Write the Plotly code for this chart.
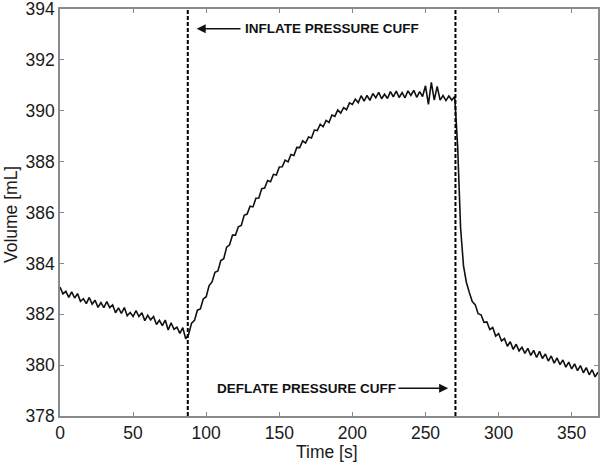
import plotly.graph_objects as go

# time [s] and volume [mL]
time_s = list(range(0, 369, 2))
volume_ml = [
    383.07, 382.80, 382.90, 382.66, 382.88, 382.64, 382.81, 382.51, 382.61, 382.42,
    382.66, 382.40, 382.55, 382.27, 382.46, 382.26, 382.50, 382.26, 382.37, 382.06,
    382.25, 382.03, 382.26, 381.94, 382.07, 381.91, 382.14, 381.91, 382.06, 381.75,
    381.96, 381.78, 381.91, 381.60, 381.76, 381.55, 381.77, 381.38, 381.66, 381.41,
    381.49, 381.25, 381.47, 381.03,
    381.22, 381.65, 381.76, 382.16, 382.21, 382.60, 382.69, 383.13, 383.27, 383.65,
    383.70, 384.11, 384.18, 384.64, 384.73, 385.11, 385.11, 385.44, 385.49, 385.89,
    385.94, 386.25, 386.22, 386.56, 386.57, 386.94, 386.96, 387.26, 387.21, 387.50,
    387.47, 387.79, 387.80, 388.06, 387.99, 388.28, 388.24, 388.56, 388.55, 388.82,
    388.73, 388.97, 388.93, 389.24, 389.22, 389.47, 389.37, 389.62, 389.54, 389.83,
    389.78, 390.03, 389.91, 390.12, 390.04, 390.31, 390.25, 390.46, 390.32, 390.59,
    390.38, 390.60, 390.41, 390.68, 390.51, 390.72, 390.47, 390.65, 390.48, 390.75,
    390.55, 390.77, 390.52, 390.71, 390.51, 390.78, 390.60, 390.80, 390.53, 390.75,
    390.56, 390.98, 390.25, 391.12, 390.42, 390.96, 390.42, 390.60, 390.40, 390.58,
    390.42, 390.56,
    388.60, 385.40, 383.90, 383.25, 382.85, 382.50, 382.38, 382.02, 381.98, 381.68,
    381.70, 381.40, 381.48, 381.14, 381.24, 380.95, 381.04, 380.74, 380.92, 380.62,
    380.82, 380.56, 380.70, 380.46, 380.66, 380.38, 380.58, 380.30, 380.54, 380.26,
    380.44, 380.16, 380.36, 380.08, 380.28, 380.02, 380.20, 379.92, 380.12, 379.85,
    380.05, 379.78, 379.98, 379.70, 379.90, 379.62, 379.82, 379.54, 379.72,
]

event_times = [87.4, 270.5]
event_labels = ["INFLATE PRESSURE CUFF", "DEFLATE PRESSURE CUFF"]
x_ticks = [0, 50, 100, 150, 200, 250, 300, 350]
y_ticks = [378, 380, 382, 384, 386, 388, 390, 392, 394]
x_title = "Time [s]"
y_title = "Volume [mL]"

fig = go.Figure()
fig.add_trace(go.Scatter(x=time_s, y=volume_ml, mode="lines",
                         line=dict(color="#111111", width=1.6), showlegend=False))

for t in event_times:
    fig.add_shape(type="line", xref="x", yref="paper", x0=t, x1=t, y0=0, y1=1,
                  line=dict(color="black", width=2, dash="4px,2px"))

afont = dict(family="Liberation Sans", size=13.5, color="#111111")
# inflate label + arrow pointing left
fig.add_annotation(x=125, y=393.22, text="<b>" + event_labels[0] + "</b>", showarrow=False,
                   xanchor="left", yanchor="middle", font=afont)
fig.add_annotation(x=93.5, y=393.22, ax=124.5, ay=393.22, axref="x", ayref="y",
                   xref="x", yref="y", text="", showarrow=True, arrowhead=2,
                   arrowsize=1.2, arrowwidth=1.5, arrowcolor="#111111")
# deflate label + arrow pointing right
fig.add_annotation(x=231, y=379.09, text="<b>" + event_labels[1] + "</b>", showarrow=False,
                   xanchor="right", yanchor="middle", font=afont)
fig.add_annotation(x=265.5, y=379.09, ax=230.5, ay=379.09, axref="x", ayref="y",
                   xref="x", yref="y", text="", showarrow=True, arrowhead=2,
                   arrowsize=1.2, arrowwidth=1.5, arrowcolor="#111111")

tfont = dict(family="Liberation Sans", size=17.5, color="#1a1a1a")
fig.add_annotation(x=0.496, y=-0.0885, xref="paper", yref="paper", text=x_title,
                   showarrow=False, xanchor="center", yanchor="middle", font=tfont)
fig.add_annotation(x=-0.092, y=0.495, xref="paper", yref="paper", text=y_title,
                   showarrow=False, textangle=-90, xanchor="center", yanchor="middle", font=tfont)

axis_common = dict(showgrid=False, zeroline=False, showline=True, linecolor="#8a8a8a",
                   linewidth=1.5, mirror="ticks", ticks="inside", ticklen=4,
                   tickcolor="#8a8a8a", automargin=False, ticklabeloverflow="allow",
                   tickfont=dict(family="Liberation Sans", size=17.5, color="#1a1a1a"))

fig.update_xaxes(range=[0, 368], tickvals=x_ticks, **axis_common)
fig.update_yaxes(range=[378, 394], tickvals=y_ticks, **axis_common)

fig.update_layout(width=600, height=462, margin=dict(l=60, r=2, t=9, b=46),
                  plot_bgcolor="white", paper_bgcolor="white")

fig.write_html("out.html", config={"displayModeBar": False},
               post_script="document.body.style.margin='0';document.body.style.overflow='hidden';")
